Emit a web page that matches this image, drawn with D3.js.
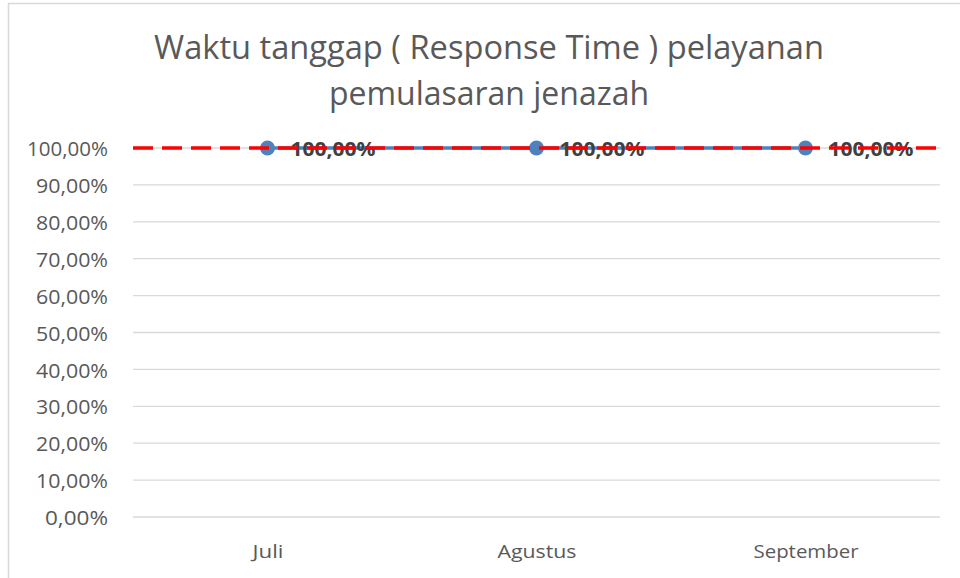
<!DOCTYPE html>
<html>
<head>
<meta charset="utf-8">
<script src="https://cdnjs.cloudflare.com/ajax/libs/d3/7.8.5/d3.min.js"></script>
<style>
  body { margin: 0; background: #fff; }
  text { font-family: "Open Sans", "Noto Sans", sans-serif; }
</style>
</head>
<body>
<div id="chart"></div>
<script>
// Chart data
var months = ["Juli", "Agustus", "September"];
var responseTime = [1.0, 1.0, 1.0];
var target = [1.0];
var yTicks = [0, 0.1, 0.2, 0.3, 0.4, 0.5, 0.6, 0.7, 0.8, 0.9, 1.0];
var titleLines = ["Waktu tanggap ( Response Time ) pelayanan", "pemulasaran jenazah"];

var svgWidth = 960;
var svgHeight = 578;

var margin = { top: 148, right: 20, bottom: 61, left: 133 };
var width = svgWidth - margin.left - margin.right;
var height = svgHeight - margin.top - margin.bottom;

var svg = d3.select("#chart")
  .append("svg")
  .attr("width", svgWidth)
  .attr("height", svgHeight);

// chart border
svg.append("rect")
  .attr("x", 8.5)
  .attr("y", 3.5)
  .attr("width", svgWidth)
  .attr("height", svgHeight)
  .attr("fill", "none")
  .attr("stroke", "#d9d9d9")
  .attr("stroke-width", 1.5);

// title
svg.selectAll(".title")
  .data(titleLines)
  .enter()
  .append("text")
  .attr("class", "title")
  .attr("x", 489)
  .attr("y", (d, i) => 59 + i * 46)
  .attr("text-anchor", "middle")
  .attr("font-size", "32px")
  .attr("fill", "#595959")
  .attr("textLength", (d, i) => i === 0 ? 670 : 320)
  .attr("lengthAdjust", "spacingAndGlyphs")
  .text(d => d);

var chartGroup = svg.append("g")
  .attr("transform", `translate(${margin.left}, ${margin.top})`);

var xScale = d3.scalePoint()
  .domain(months)
  .range([0, width])
  .padding(0.5);

var yScale = d3.scaleLinear()
  .domain([0, 1])
  .range([height, 0]);

var fmt = v => (v * 100).toFixed(2).replace(".", ",") + "%";

// gridlines
chartGroup.selectAll(".grid")
  .data(yTicks)
  .enter()
  .append("line")
  .attr("x1", 0)
  .attr("x2", width)
  .attr("y1", d => yScale(d))
  .attr("y2", d => yScale(d))
  .attr("stroke", "#d9d9d9")
  .attr("stroke-width", 1.3);

// y axis labels
var leftAxis = d3.axisLeft(yScale)
  .tickValues(yTicks)
  .tickFormat(fmt)
  .tickSize(0)
  .tickPadding(25);

var yAxis = chartGroup.append("g").call(leftAxis);
yAxis.select(".domain").remove();
yAxis.selectAll("text")
  .attr("font-size", "20px")
  .attr("dy", "0.38em")
  .attr("fill", "#595959")
  .style("font-family", "'Open Sans', sans-serif")
  .attr("textLength", d => d > 0.95 ? 81 : (d > 0.05 ? 72 : 63))
  .attr("lengthAdjust", "spacingAndGlyphs");

// x axis labels
var bottomAxis = d3.axisBottom(xScale)
  .tickSize(0)
  .tickPadding(28);

var xAxis = chartGroup.append("g")
  .attr("transform", `translate(0, ${height})`)
  .call(bottomAxis);
xAxis.select(".domain").remove();
xAxis.selectAll("text")
  .attr("font-size", "19px")
  .attr("fill", "#595959")
  .style("font-family", "'Open Sans', sans-serif")
  .attr("textLength", d => ({ "Juli": 31, "Agustus": 79, "September": 105 })[d])
  .attr("lengthAdjust", "spacingAndGlyphs");

// series line
var line = d3.line()
  .x((d, i) => xScale(months[i]))
  .y(d => yScale(d));

chartGroup.append("path")
  .datum(responseTime)
  .attr("d", line)
  .attr("fill", "none")
  .attr("stroke", "#4f81bd")
  .attr("stroke-width", 3.5);

chartGroup.selectAll(".pt")
  .data(responseTime)
  .enter()
  .append("circle")
  .attr("cx", (d, i) => xScale(months[i]))
  .attr("cy", d => yScale(d))
  .attr("r", 7.5)
  .attr("fill", "#4f81bd");

// data labels
chartGroup.selectAll(".lbl")
  .data(responseTime)
  .enter()
  .append("text")
  .attr("x", (d, i) => xScale(months[i]) + 23)
  .attr("y", d => yScale(d) + 8)
  .attr("font-size", "20px")
  .attr("font-weight", "bold")
  .attr("fill", "#404040")
  .attr("textLength", 85)
  .attr("lengthAdjust", "spacingAndGlyphs")
  .text(d => fmt(d));

// target line (dashed red)
chartGroup.selectAll(".target")
  .data(target)
  .enter()
  .append("line")
  .attr("x1", 0)
  .attr("x2", width)
  .attr("y1", d => yScale(d))
  .attr("y2", d => yScale(d))
  .attr("stroke", "#ff0000")
  .attr("stroke-width", 3.5)
  .attr("stroke-dasharray", "20,9");
</script>
</body>
</html>
